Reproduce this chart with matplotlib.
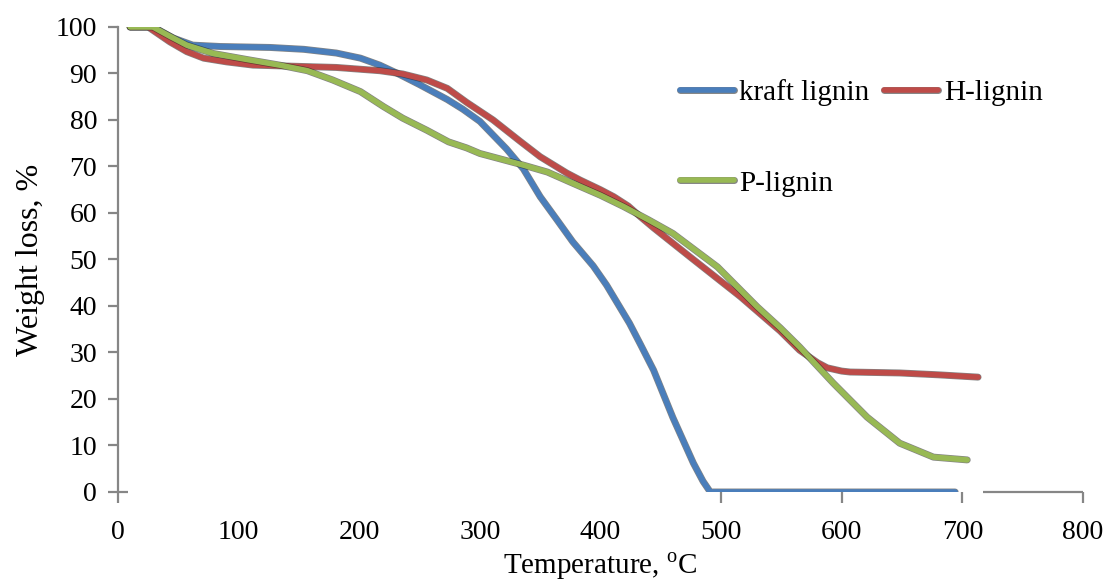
import matplotlib
matplotlib.use("Agg")
import matplotlib.pyplot as plt
import matplotlib.patheffects as pe

plt.rcParams['font.family'] = ['Liberation Serif', 'DejaVu Serif']
plt.rcParams['mathtext.fontset'] = 'custom'
plt.rcParams['mathtext.rm'] = 'Liberation Serif'

# ---- data ----
kraft_x = [10, 29, 46, 62, 85, 126, 154, 181, 201, 217, 231, 250, 273, 286, 300,
           322, 336, 350, 364, 377, 394, 405, 424, 433, 444, 460, 477, 485, 491,
           550, 600, 650, 694]
kraft_y = [100, 100, 97.6, 96.1, 95.8, 95.6, 95.2, 94.4, 93.3, 91.8, 90.1, 87.6,
           84.4, 82.3, 79.7, 73.8, 69.5, 63.5, 58.5, 53.8, 48.6, 44.5, 36.3, 31.8,
           26.2, 16, 6.2, 2.3, 0, 0, 0, 0, 0]

h_x = [10, 25, 43, 57, 71, 90, 112, 140, 181, 217, 236, 256, 273, 289, 311, 333,
       350, 372, 383, 400, 411, 423, 433, 444, 474, 516, 549, 565, 580, 588, 600,
       607, 648, 680, 713]
h_y = [100, 100, 96.8, 94.7, 93.3, 92.5, 91.8, 91.6, 91.3, 90.6, 89.9, 88.6,
       86.8, 83.8, 80, 75.5, 72.1, 68.6, 67.1, 65, 63.5, 61.5, 59.2, 56.8, 50.6,
       42, 34.6, 30.5, 27.8, 26.7, 26, 25.8, 25.6, 25.2, 24.7]

p_x = [10, 29, 43, 57, 79, 107, 134, 157, 178, 201, 220, 236, 256, 274, 289, 300,
       336, 356, 377, 400, 419, 440, 460, 497, 530, 549, 565, 593, 621, 648, 676,
       704]
p_y = [100, 100, 98, 96.1, 94.3, 93, 91.8, 90.6, 88.6, 86.1, 82.9, 80.4, 77.8,
       75.3, 74, 72.8, 70.3, 68.8, 66.4, 63.8, 61.4, 58.5, 55.6, 48.4, 39.8, 35.3,
       31.2, 23.4, 16.1, 10.5, 7.5, 6.9]

series_labels = ['kraft lignin', 'H-lignin', 'P-lignin']
series_colors = ['#4A7EBB', '#BE4B48', '#98B954']

x_ticks = [0, 100, 200, 300, 400, 500, 600, 700, 800]
y_ticks = [0, 10, 20, 30, 40, 50, 60, 70, 80, 90, 100]
hidden_x_tick_marks = [100, 200, 300, 400]

x_label = r'Temperature, $^{\mathrm{o}}$C'
y_label = 'Weight loss, %'

# ---- figure ----
fig = plt.figure(figsize=(11.1, 5.83), dpi=100)
ax = fig.add_axes([0.1063, 0.1561, 0.8694, 0.7976])

axis_gray = '#868686'
effects = [pe.Stroke(linewidth=5.0, foreground='#202020', alpha=0.55), pe.Normal()]

lines = {}
for xs, ys, lab, col in zip([kraft_x, h_x, p_x], [kraft_y, h_y, p_y],
                            series_labels, series_colors):
    ln, = ax.plot(xs, ys, color=col, lw=4.0, solid_capstyle='round',
                  solid_joinstyle='round', label=lab, path_effects=effects,
                  zorder=3)
    lines[lab] = ln

ax.set_xlim(0, 800)
ax.set_ylim(0, 100)
ax.set_xticks(x_ticks)
ax.set_yticks(y_ticks)
ax.tick_params(axis='both', labelsize=20, colors=axis_gray,
               labelcolor='black', width=1.6)
ax.tick_params(axis='y', length=7, pad=8)
ax.tick_params(axis='x', length=8, pad=12)
# tick marks hidden where the original shows none
for val, t in zip(x_ticks, ax.xaxis.get_major_ticks()):
    if val in hidden_x_tick_marks:
        t.tick1line.set_visible(False)

for s in ['top', 'right', 'bottom']:
    ax.spines[s].set_visible(False)
ax.spines['left'].set_color(axis_gray)
ax.spines['left'].set_linewidth(1.6)

# visible pieces of the bottom axis line
ax.hlines(0, 0, 8, color=axis_gray, lw=1.6, clip_on=False, zorder=2)
ax.hlines(0, 717, 800, color=axis_gray, lw=1.6, clip_on=False, zorder=2)

ax.set_xlabel(x_label, fontsize=21, labelpad=4)
ax.set_ylabel(y_label, fontsize=23, labelpad=8)

order = ['kraft lignin', 'P-lignin', 'H-lignin']
leg = ax.legend([lines[k] for k in order], order, ncol=2, frameon=False,
                loc='upper left', bbox_to_anchor=(0.582, 0.888), fontsize=21,
                handlelength=1.85, handletextpad=0.2, columnspacing=0.5,
                labelspacing=2.2, borderpad=0, borderaxespad=0)

fig.savefig('out.png', dpi=100, facecolor='white')
